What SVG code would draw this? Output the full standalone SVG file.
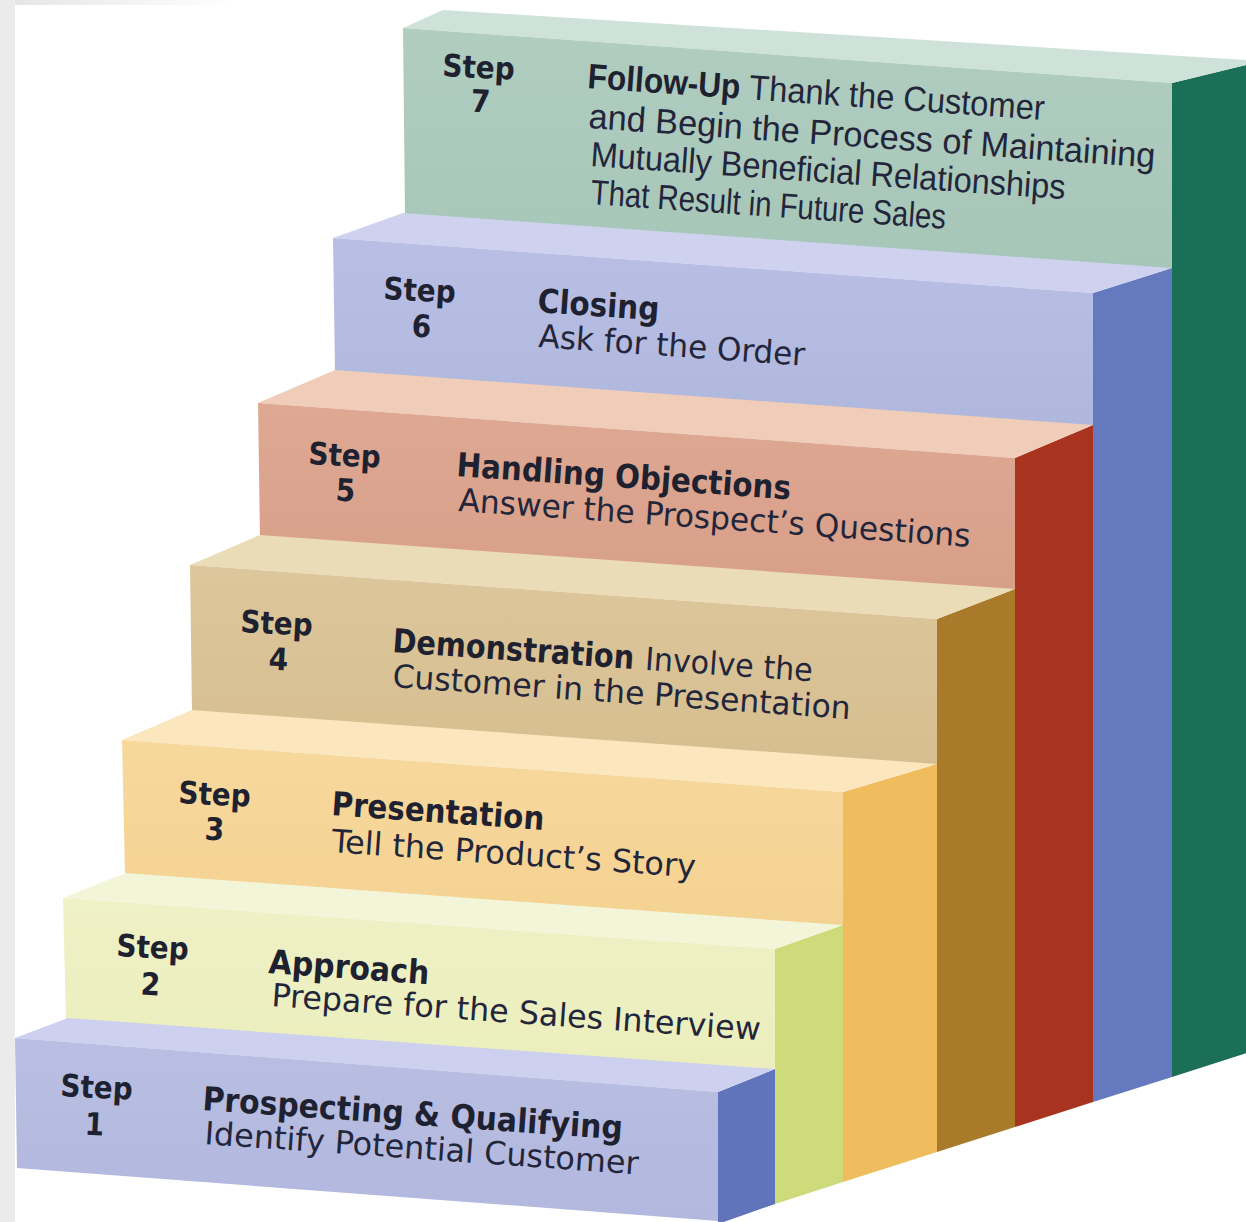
<svg xmlns="http://www.w3.org/2000/svg" width="1246" height="1222" viewBox="0 0 1246 1222">
  <defs>
    <style>
      .lbl { font-family: "Liberation Sans Narrow", "DejaVu Sans Condensed", "Liberation Sans", sans-serif; font-weight: 700; font-size: 31px; fill: #1e2130; text-anchor: middle; }
      .ttl { font-family: "Liberation Sans Narrow", "DejaVu Sans Condensed", "Liberation Sans", sans-serif; font-weight: 700; font-size: 33px; fill: #1e2130; }
      .sub { font-family: "Liberation Sans Narrow", "DejaVu Sans Condensed", "Liberation Sans", sans-serif; font-weight: 400; font-size: 32px; fill: #23263a; }
      .ttl-n { font-family: "Liberation Sans Narrow", "Liberation Sans", sans-serif; font-weight: 700; font-size: 35px; fill: #1e2130; }
      .sub-n { font-family: "Liberation Sans Narrow", "Liberation Sans", sans-serif; font-weight: 400; font-size: 35px; fill: #23263a; }
    </style>
    <linearGradient id="frame-top" x1="0" y1="0" x2="1" y2="0">
      <stop offset="0" stop-color="#e6e6e6"/>
      <stop offset="1" stop-color="#ffffff"/>
    </linearGradient>
    <linearGradient id="f7" x1="0" y1="0" x2="0" y2="1"><stop offset="0" stop-color="#b0cdc0"/><stop offset="1" stop-color="#a6c6b8"/></linearGradient>
    <linearGradient id="f6" x1="0" y1="0" x2="0" y2="1"><stop offset="0" stop-color="#b9bfe4"/><stop offset="1" stop-color="#b0b7dd"/></linearGradient>
    <linearGradient id="f5" x1="0" y1="0" x2="0" y2="1"><stop offset="0" stop-color="#dea893"/><stop offset="1" stop-color="#d89f88"/></linearGradient>
    <linearGradient id="f4" x1="0" y1="0" x2="0" y2="1"><stop offset="0" stop-color="#dcc69b"/><stop offset="1" stop-color="#d6be90"/></linearGradient>
    <linearGradient id="f3" x1="0" y1="0" x2="0" y2="1"><stop offset="0" stop-color="#f7d89d"/><stop offset="1" stop-color="#f4d292"/></linearGradient>
    <linearGradient id="f2" x1="0" y1="0" x2="0" y2="1"><stop offset="0" stop-color="#eff1c6"/><stop offset="1" stop-color="#ebeebc"/></linearGradient>
    <linearGradient id="f1" x1="0" y1="0" x2="0" y2="1"><stop offset="0" stop-color="#b9bee2"/><stop offset="1" stop-color="#b2b8de"/></linearGradient>
  </defs>

  <!-- page background with a thin grey frame on the left and top -->
  <rect x="0" y="0" width="1246" height="1222" fill="#ffffff"/>
  <rect x="0" y="0" width="15" height="1222" fill="#ebebeb"/>
  <rect x="15" y="0" width="220" height="5" fill="url(#frame-top)"/>

  <!-- Step 7 (back, highest) -->
  <g id="step-7">
    <polygon points="1172,83 1262,61 1262,1048 1172,1077" fill="#1a6f56"/>
    <polygon points="403,28 1172,83 1262,61 443,10" fill="#cfe2da"/>
    <polygon points="403,28 1172,83 1172,270 405,215" fill="url(#f7)"/>
    <text class="lbl" x="478" y="78" transform="rotate(3 478 78)">Step</text>
    <text class="lbl" x="480" y="112" transform="rotate(3 480 112)">7</text>
    <g transform="rotate(4 587 88)">
      <text class="ttl-n" x="587" y="88" textLength="153" lengthAdjust="spacingAndGlyphs">Follow-Up</text>
      <text class="sub-n" x="749" y="88" textLength="296" lengthAdjust="spacingAndGlyphs">Thank the Customer</text>
    </g>
    <text class="sub-n" x="588" y="128" transform="rotate(4 588 128)" textLength="568" lengthAdjust="spacingAndGlyphs">and Begin the Process of Maintaining</text>
    <text class="sub-n" x="590" y="166" transform="rotate(4 590 166)" textLength="476" lengthAdjust="spacingAndGlyphs">Mutually Beneficial Relationships</text>
    <text class="sub-n" x="590" y="204" transform="rotate(4 590 204)" textLength="356" lengthAdjust="spacingAndGlyphs">That Result in Future Sales</text>
  </g>

  <!-- Step 6 -->
  <g id="step-6">
    <polygon points="1093,293 1172,268 1172,1077 1093,1102" fill="#6479be"/>
    <polygon points="333,238 1093,293 1172,268 403,213" fill="#cfd2ef"/>
    <polygon points="333,238 1093,293 1093,427 335,372" fill="url(#f6)"/>
    <text class="lbl" x="419" y="301" transform="rotate(3 419 301)">Step</text>
    <text class="lbl" x="421" y="337" transform="rotate(3 421 337)">6</text>
    <text class="ttl" x="537" y="312" transform="rotate(4 537 312)" textLength="122" lengthAdjust="spacingAndGlyphs">Closing</text>
    <text class="sub" x="538" y="347" transform="rotate(4 538 347)" textLength="267" lengthAdjust="spacingAndGlyphs">Ask for the Order</text>
  </g>

  <!-- Step 5 -->
  <g id="step-5">
    <polygon points="1015,458 1093,425 1093,1102 1015,1127" fill="#a8331f"/>
    <polygon points="258,403 1015,458 1093,425 335,370" fill="#efcdb9"/>
    <polygon points="258,403 1015,458 1015,591 260,537" fill="url(#f5)"/>
    <text class="lbl" x="344" y="466" transform="rotate(3 344 466)">Step</text>
    <text class="lbl" x="345" y="501" transform="rotate(3 345 501)">5</text>
    <text class="ttl" x="456" y="476" transform="rotate(4 456 476)" textLength="335" lengthAdjust="spacingAndGlyphs">Handling Objections</text>
    <text class="sub" x="458" y="511" transform="rotate(4 458 511)" textLength="513" lengthAdjust="spacingAndGlyphs">Answer the Prospect’s Questions</text>
  </g>

  <!-- Step 4 -->
  <g id="step-4">
    <polygon points="937,619 1015,589 1015,1127 937,1152" fill="#a87a29"/>
    <polygon points="190,565 937,619 1015,589 260,535" fill="#ebdcb8"/>
    <polygon points="190,565 937,619 937,766 192,712" fill="url(#f4)"/>
    <text class="lbl" x="276" y="634" transform="rotate(3 276 634)">Step</text>
    <text class="lbl" x="278" y="670" transform="rotate(3 278 670)">4</text>
    <g transform="rotate(4 392 652)">
      <text class="ttl" x="392" y="652" textLength="242" lengthAdjust="spacingAndGlyphs">Demonstration</text>
      <text class="sub" x="645" y="652" textLength="168" lengthAdjust="spacingAndGlyphs">Involve the</text>
    </g>
    <text class="sub" x="392" y="687" transform="rotate(4 392 687)" textLength="459" lengthAdjust="spacingAndGlyphs">Customer in the Presentation</text>
  </g>

  <!-- Step 3 -->
  <g id="step-3">
    <polygon points="843,792 937,764 937,1152 843,1182" fill="#efbc5e"/>
    <polygon points="122,740 843,792 937,764 192,710" fill="#fbe6bd"/>
    <polygon points="122,740 843,792 843,927 125,875" fill="url(#f3)"/>
    <text class="lbl" x="214" y="805" transform="rotate(3 214 805)">Step</text>
    <text class="lbl" x="214" y="840" transform="rotate(3 214 840)">3</text>
    <text class="ttl" x="331" y="815" transform="rotate(4 331 815)" textLength="213" lengthAdjust="spacingAndGlyphs">Presentation</text>
    <text class="sub" x="331" y="852" transform="rotate(4 331 852)" textLength="365" lengthAdjust="spacingAndGlyphs">Tell the Product’s Story</text>
  </g>

  <!-- Step 2 -->
  <g id="step-2">
    <polygon points="775,949 843,925 843,1182 775,1204" fill="#cedb7a"/>
    <polygon points="63,898 775,949 843,925 125,873" fill="#f3f5d8"/>
    <polygon points="63,898 775,949 775,1071 66,1020" fill="url(#f2)"/>
    <text class="lbl" x="152" y="958" transform="rotate(3 152 958)">Step</text>
    <text class="lbl" x="150" y="995" transform="rotate(3 150 995)">2</text>
    <text class="ttl" x="268" y="973" transform="rotate(4 268 973)" textLength="161" lengthAdjust="spacingAndGlyphs">Approach</text>
    <text class="sub" x="271" y="1006" transform="rotate(4 271 1006)" textLength="490" lengthAdjust="spacingAndGlyphs">Prepare for the Sales Interview</text>
  </g>

  <!-- Step 1 (front, lowest) -->
  <g id="step-1">
    <polygon points="718,1092 775,1069 775,1204 718,1224" fill="#5f74ba"/>
    <polygon points="15,1038 718,1092 775,1069 68,1018" fill="#cdd0ee"/>
    <polygon points="15,1038 718,1092 718,1221 17,1168" fill="url(#f1)"/>
    <text class="lbl" x="96" y="1098" transform="rotate(3 96 1098)">Step</text>
    <text class="lbl" x="94" y="1135" transform="rotate(3 94 1135)">1</text>
    <text class="ttl" x="202" y="1110" transform="rotate(4 202 1110)" textLength="421" lengthAdjust="spacingAndGlyphs">Prospecting &amp; Qualifying</text>
    <text class="sub" x="204" y="1144" transform="rotate(4 204 1144)" textLength="435" lengthAdjust="spacingAndGlyphs">Identify Potential Customer</text>
  </g>
</svg>
